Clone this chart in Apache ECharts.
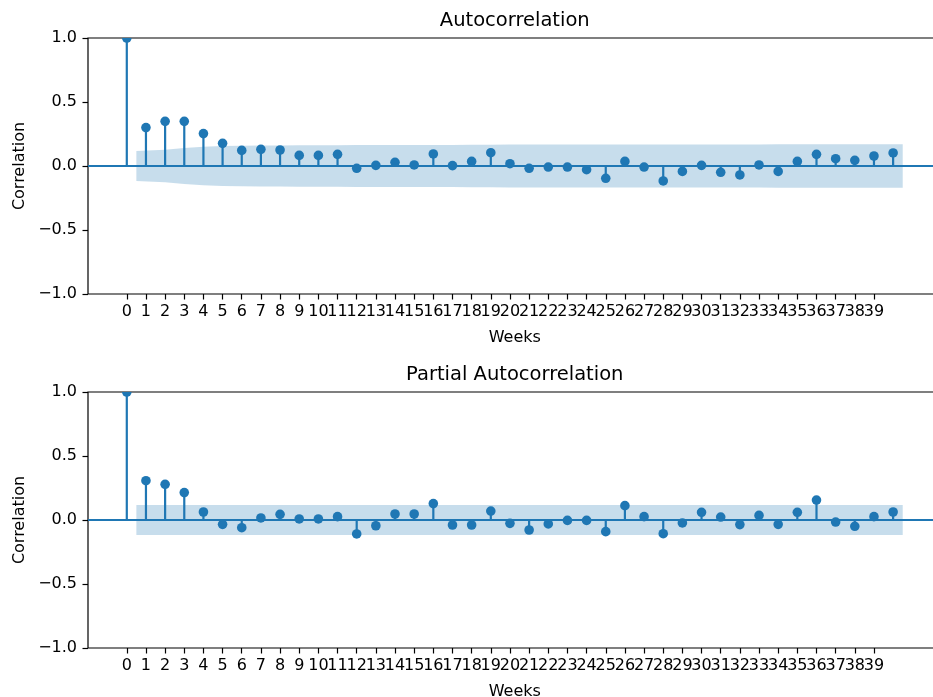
<!DOCTYPE html>
<html><head><meta charset="utf-8">
<script src="https://cdn.jsdelivr.net/npm/echarts@6/dist/echarts.min.js"></script>
<style>html,body{margin:0;padding:0;background:#fff;overflow:hidden}#c{width:960px;height:697px}</style>
</head><body><div id="c"></div>
<script>
// ---- data ----
const lags = [0,1,2,3,4,5,6,7,8,9,10,11,12,13,14,15,16,17,18,19,20,21,22,23,24,25,26,27,28,29,30,31,32,33,34,35,36,37,38,39,40];
const xTickValues = [0,1,2,3,4,5,6,7,8,9,10,11,12,13,14,15,16,17,18,19,20,21,22,23,24,25,26,27,28,29,30,31,32,33,34,35,36,37,38,39];
const yTickValues = [-1,-0.5,0,0.5,1];
const acfValues = [1.0,0.300,0.349,0.349,0.253,0.177,0.122,0.130,0.125,0.083,0.083,0.091,-0.018,0.005,0.029,0.008,0.094,0.003,0.036,0.104,0.018,-0.018,-0.008,-0.008,-0.029,-0.096,0.036,-0.008,-0.117,-0.042,0.005,-0.049,-0.070,0.008,-0.042,0.036,0.091,0.057,0.044,0.078,0.102];
// half-width of the confidence band for lags 1..40
const acfBand = [0.117,0.127,0.140,0.150,0.156,0.158,0.160,0.161,0.162,0.163,0.163,0.164,0.164,0.164,0.164,0.165,0.165,0.166,0.166,0.167,0.167,0.167,0.167,0.167,0.167,0.167,0.168,0.168,0.168,0.168,0.168,0.168,0.168,0.169,0.169,0.169,0.169,0.170,0.170,0.170];
const pacfValues = [1.0,0.307,0.279,0.214,0.0625,-0.034,-0.060,0.016,0.044,0.008,0.008,0.026,-0.109,-0.045,0.047,0.047,0.128,-0.039,-0.039,0.070,-0.026,-0.078,-0.031,-0.003,-0.003,-0.091,0.112,0.026,-0.107,-0.023,0.060,0.023,-0.036,0.036,-0.034,0.060,0.156,-0.016,-0.049,0.026,0.0625];
const pacfBand = [0.117,0.117,0.117,0.117,0.117,0.117,0.117,0.117,0.117,0.117,0.117,0.117,0.117,0.117,0.117,0.117,0.117,0.117,0.117,0.117,0.117,0.117,0.117,0.117,0.117,0.117,0.117,0.117,0.117,0.117,0.117,0.117,0.117,0.117,0.117,0.117,0.117,0.117,0.117,0.117];
const titles = ['Autocorrelation', 'Partial Autocorrelation'];
const xName = 'Weeks';
const yName = 'Correlation';

// ---- chart ----
const BLUE = '#1f77b4';
const FONT = 'DejaVu Sans';
const gridLeft = 88, gridW = 853.5, gridH = 256;
const gridTops = [38, 392];
const xMin = -2.025, xMax = 42.525;
const lastTick = xTickValues[xTickValues.length - 1];
// an empty trailing label keeps ECharts' max-label overlap check from hiding "39" or "38"
const labelValues = xTickValues.concat([xMax]);

function bandX() {
  const xs = lags.slice(1);
  return xs.map((v, i) => i === 0 ? v - 0.5 : (i === xs.length - 1 ? v + 0.5 : v));
}

const chart = echarts.init(document.getElementById('c'), null, {renderer: 'canvas'});
const grids = [], xAxes = [], yAxes = [], series = [], graphics = [];
const sets = [[acfValues, acfBand], [pacfValues, pacfBand]];

sets.forEach(([vals, band], k) => {
  grids.push({left: gridLeft, top: gridTops[k], width: gridW, height: gridH, show: true,
    borderColor: '#000', borderWidth: 1.2, backgroundColor: 'transparent'});
  xAxes.push({type: 'value', gridIndex: k, min: xMin, max: xMax, position: 'bottom',
    axisLine: {show: false, onZero: false},
    splitLine: {show: false},
    axisTick: {show: true, length: 5.5, lineStyle: {color: '#000', width: 1.2}, customValues: xTickValues},
    axisLabel: {show: true, margin: 10, color: '#000', fontFamily: FONT, fontSize: 16, customValues: labelValues,
      hideOverlap: false, showMinLabel: true, showMaxLabel: true,
      formatter: v => (v <= lastTick ? String(v) : '')}
  });
  yAxes.push({type: 'value', gridIndex: k, min: -1, max: 1, interval: 0.5, position: 'left',
    axisLine: {show: false, onZero: false},
    splitLine: {show: false},
    axisTick: {show: true, length: 5.5, lineStyle: {color: '#000', width: 1.2}},
    axisLabel: {show: true, margin: 11, color: '#000', fontFamily: FONT, fontSize: 16,
      formatter: v => (v < 0 ? '\u2212' : '') + Math.abs(v).toFixed(1)}
  });
  const bx = bandX();
  series.push({type: 'line', xAxisIndex: k, yAxisIndex: k, data: bx.map((x, i) => [x, band[i]]),
    showSymbol: false, symbol: 'none', silent: true, z: 1, clip: true,
    lineStyle: {width: 0, opacity: 0}, areaStyle: {color: 'rgba(31,119,180,0.25)', origin: 'auto', opacity: 1}});
  series.push({type: 'line', xAxisIndex: k, yAxisIndex: k, data: bx.map((x, i) => [x, -band[i]]),
    showSymbol: false, symbol: 'none', silent: true, z: 1, clip: true,
    lineStyle: {width: 0, opacity: 0}, areaStyle: {color: 'rgba(31,119,180,0.25)', origin: 'auto', opacity: 1},
    markLine: {silent: true, symbol: ['none', 'none'], label: {show: false},
      lineStyle: {color: BLUE, width: 2.2, type: 'solid'}, emphasis: {disabled: true},
      data: [{yAxis: 0}]}});
  series.push({type: 'custom', xAxisIndex: k, yAxisIndex: k, z: 3, clip: true, silent: true,
    data: lags.map((l, i) => [l, vals[i]]),
    renderItem: (params, api) => {
      const x = api.value(0), y = api.value(1);
      const p0 = api.coord([x, 0]), p1 = api.coord([x, y]);
      return {type: 'group', children: [
        {type: 'line', shape: {x1: p0[0], y1: p0[1], x2: p1[0], y2: p1[1]},
          style: {stroke: BLUE, lineWidth: 2.2}},
        {type: 'circle', shape: {cx: p1[0], cy: p1[1], r: 4.8}, style: {fill: BLUE}}
      ]};
    }
  });
  const cx = gridLeft + gridW / 2;
  graphics.push({type: 'text', x: cx, y: gridTops[k] - 17, style: {text: titles[k], fill: '#000',
    font: '19.5px "' + FONT + '"', textAlign: 'center', textVerticalAlign: 'middle'}});
  graphics.push({type: 'text', x: cx, y: gridTops[k] + gridH + 44, style: {text: xName, fill: '#000',
    font: '16px "' + FONT + '"', textAlign: 'center', textVerticalAlign: 'middle'}});
  graphics.push({type: 'text', x: 20, y: gridTops[k] + gridH / 2, rotation: Math.PI / 2,
    style: {text: yName, fill: '#000', font: '16px "' + FONT + '"', textAlign: 'center', textVerticalAlign: 'middle'}});
});

chart.setOption({
  animation: false,
  backgroundColor: '#fff',
  textStyle: {fontFamily: FONT},
  grid: grids, xAxis: xAxes, yAxis: yAxes, series: series, graphic: graphics
});
</script></body></html>
